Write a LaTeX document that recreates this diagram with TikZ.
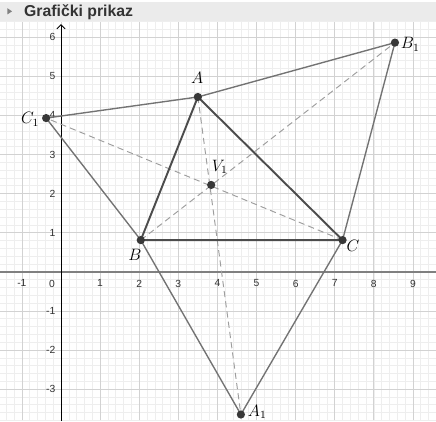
\documentclass[tikz,border=0pt]{standalone}
\usepackage{fontspec}
\setsansfont{Liberation Sans}
\usetikzlibrary{arrows.meta}
\definecolor{gridminor}{HTML}{EEEEEE}
\definecolor{gridmajor}{HTML}{D2D2D2}
\definecolor{headbar}{HTML}{EBEBEB}
\definecolor{headtext}{HTML}{333333}

\begin{document}
\begin{tikzpicture}[
	tick/.style={font=\sffamily\fontsize{7.5}{9}\selectfont, text=black!80, inner sep=0pt},
	pt/.style={circle, fill=black!78, inner sep=0pt, minimum size=6pt},
	lbl/.style={font=\fontsize{12}{14}\selectfont, inner sep=0pt},
	tri/.style={draw=black!70, line width=1.4pt},
	hex/.style={draw=black!55, line width=1pt},
	ray/.style={draw=black!38, line width=0.7pt, dash pattern=on 4.5pt off 3pt}
]
	\useasboundingbox (-1.56,-3.82) rectangle (9.59,6.95);
	% Header:
	\fill[headbar] (-1.56,6.39) rectangle (9.59,6.90);
	\fill[black!50] (-1.37,6.58) -- (-1.37,6.74) -- (-1.25,6.66) -- cycle;
	\node[anchor=base west, inner sep=0pt, text=headtext,
		font=\sffamily\bfseries\fontsize{11.5}{13}\selectfont] (title) at (-0.95,6.54) {Grafički prikaz};
	% Grid and axes:
	\begin{scope}
		\clip (-1.56,-3.82) rectangle (9.59,6.39);
		\draw[gridminor, line width=0.4pt] (-1.6,-3.8) grid[step=0.2] (9.6,6.4);
		\draw[gridmajor, line width=0.5pt] (-1.6,-3.8) grid[step=1] (9.6,6.4);
		\draw[black!50, line width=1.1pt] (-1.56,0) -- (9.59,0);
		\draw[black, line width=0.6pt, -{Straight Barb[length=3pt, width=6pt]}] (0,-3.82) -- (0,6.33);
	\end{scope}
	\foreach \x in {-1,1,2,...,9}
		\node[tick, anchor=north] (tx\x) at (\x,-0.2) {\x};
	\node[tick, anchor=north] (tx0) at (-0.23,-0.2) {0};
	\foreach \y in {-3,-2,-1,1,2,...,6}
		\node[tick, anchor=east] (ty\y) at (-0.14,\y) {\y};
	% Points:
	\coordinate (A) at (3.50,4.47);
	\coordinate (B) at (2.04,0.81);
	\coordinate (C) at (7.20,0.81);
	\coordinate (V1) at (3.84,2.22);
	\coordinate (A1) at (4.60,-3.65);
	\coordinate (B1) at (8.54,5.86);
	\coordinate (C1) at (-0.38,3.93);
	% Lines:
	\draw[ray] (A) -- (A1);
	\draw[ray] (B) -- (B1);
	\draw[ray] (C) -- (C1);
	\draw[hex] (C1) -- (A) -- (B1) -- (C) -- (A1) -- (B) -- cycle;
	\draw[tri] (A) -- (B) -- (C) -- cycle;
	\foreach \p in {A,B,C,V1,A1,B1,C1}
		\node[pt] (dot\p) at (\p) {};
	% Labels:
	\node[lbl] (lA) at (3.48,4.95) {$A$};
	\node[lbl] (lB) at (1.89,0.43) {$B$};
	\node[lbl] (lC) at (7.47,0.66) {$C$};
	\node[lbl] (lV1) at (4.06,2.68) {$V_1$};
	\node[lbl] (lA1) at (5.02,-3.58) {$A_1$};
	\node[lbl] (lB1) at (8.93,5.82) {$B_1$};
	\node[lbl] (lC1) at (-0.79,3.90) {$C_1$};
\end{tikzpicture}
\end{document}
